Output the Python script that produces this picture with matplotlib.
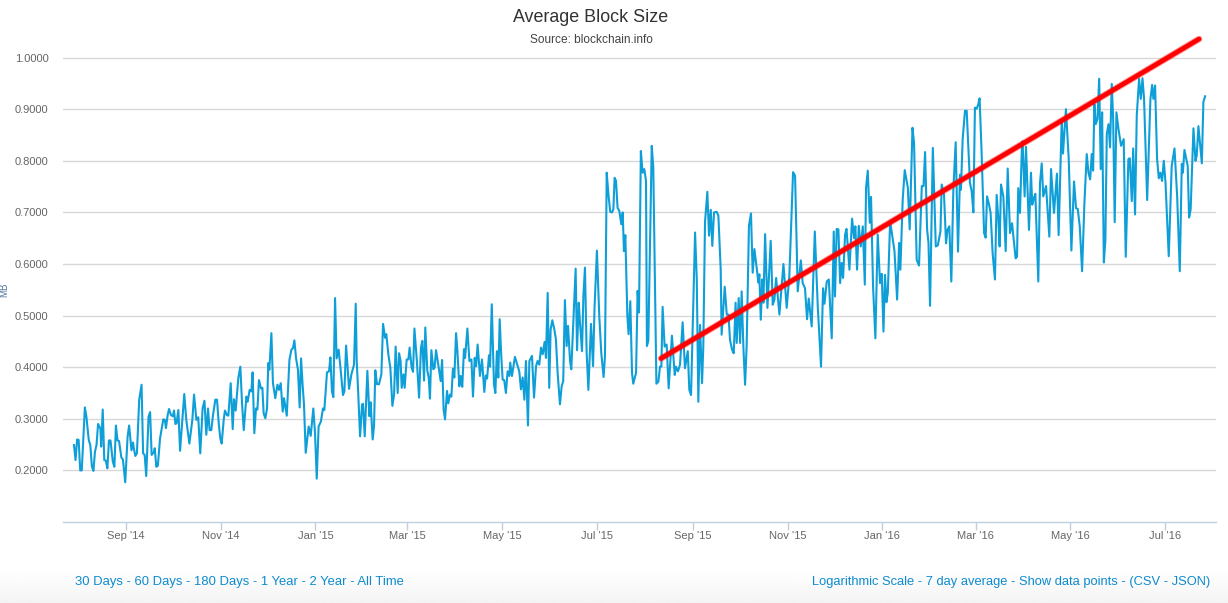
import numpy as np
import pandas as pd
import matplotlib
matplotlib.use('Agg')
import matplotlib.pyplot as plt
import matplotlib.dates as mdates
import matplotlib.patheffects as pe

plt.rcParams['font.family'] = ['Liberation Sans', 'DejaVu Sans']

# days since start of the series
days = [
    0, 1, 2, 3, 4, 5, 7, 8, 9.5, 10.5, 11.5, 12.5, 13.5, 14.5, 15.5, 17, 17.5, 18.5, 19.5, 20.5,
    21.5, 22.5, 23.5, 25, 26, 27, 28, 29, 30.5, 31.5, 33, 34.5, 35.5, 37, 38, 38.5, 39.5, 40.5, 42, 43.5,
    44.5, 45.5, 46.5, 48, 49, 50, 51.5, 52, 53, 54, 55.4, 57.5, 58.5, 59.2, 60.3, 61.2, 62.5, 63.7, 64.4, 65.3,
    66, 67.2, 68.3, 71, 72.3, 74.3, 76.2, 77.3, 78.8, 80, 81.3, 82.8, 84, 85.2, 86.3, 87.3, 88.4, 89.5, 91,
    92.1, 93.2, 94.2, 95.1, 96.4, 97.2, 98.5, 99.4, 100.9, 102.2, 103, 104.1, 105.8, 107.1, 108.2, 109.3,
    111, 111.8, 113.1, 114.2, 115, 116.1, 117.2, 118.1, 119.1, 120.4, 121.3, 122.1, 123.2, 124.3, 125.1,
    125.8, 127.1, 128.1, 129.6, 131, 132, 133.1, 134.4, 135.2, 137, 138.7, 140, 141, 141.9, 143, 144.2,
    145.3, 146.2, 147.2, 148.1, 149.2, 151.1, 152.4, 154.1, 155.2, 156.3, 157.5, 159, 160.3, 161.2, 162.9,
    164.2, 165.1, 166.1, 167, 168.1, 169.1, 170.4, 171.7, 173.2, 174.1, 175.2, 177.1, 178.6, 180.3, 181.4,
    182, 182.9, 184.2, 185.5, 186.1, 187.2, 188.9, 190.2, 191, 192.3, 193.2, 194, 195.1, 196.4, 197.9, 199,
    200.3, 201.1, 202.4, 203.7, 205, 206.1, 207.1, 208.4, 209.3, 210.3, 211, 212.1, 212.9, 214.2, 215.3,
    216.1, 217.4, 218.3, 219.2, 220.7, 222.2, 223.4, 224.3, 225.4, 226.2, 227.5, 228.4, 229.2, 230.1, 231.4,
    232.2, 233.1, 235, 236.1, 237, 238, 238.9, 240.2, 241, 242.1, 243, 244, 244.9, 246, 246.8, 248.1, 249,
    250, 251.1, 251.8, 253.3, 254.6, 255.9, 256.9, 258, 258.9, 259.9, 261.4, 262.7, 264.2, 265.1, 266, 267.2,
    267.9, 269, 270.4, 271.3, 272.3, 273.2, 274.1, 275, 276, 277, 278.1, 279.2, 280.3, 280.9, 282, 283.9,
    285.7, 286.7, 287.8, 288.9, 290, 291, 292.3, 293.2, 294.9, 296.2, 297.5, 298.5, 299.6, 300.7, 301.8, 303,
    303.9, 305, 306, 306.9, 308, 309.3, 310.3, 311.4, 312.9, 314, 315, 316.1, 317.2, 318.1, 319.4, 320.2,
    323, 323.9, 325, 325.8, 327.1, 328, 329, 330.1, 331.2, 332.9, 334.2, 335.2, 336.7, 338.2, 339.5, 341,
    341.9, 343, 344.2, 345.3, 346.4, 347.3, 348.1, 349, 350, 351.1, 352.4, 353.3, 354.1, 355, 356.3, 357.1,
    358.2, 359.3, 360.1, 361.9, 362.9, 363.8, 365, 366.1, 367.2, 368.3, 368.9, 369.8, 372, 373, 375, 376.3,
    377.3, 378.2, 379, 380.3, 381.6, 382.9, 385, 386.8, 387.6, 388.9, 390.2, 391.9, 393.4, 395.2, 396.2,
    397.3, 399.9, 401, 402, 403.1, 404.4, 405.2, 406.3, 407.8, 408.9, 410, 411, 412.1, 413.8, 414.9, 416.4,
    417, 419, 420.3, 421.4, 422.4, 423.7, 424.8, 426, 426.7, 428, 428.9, 429.9, 431, 432.1, 433.1, 434.6,
    435.9, 437, 438.1, 440.7, 441.3, 442.2, 443.2, 443.9, 445, 446.5, 448.6, 449.9, 451, 452.1, 454.2, 456.8,
    458.9, 460.6, 463, 464.3, 466, 468, 469.2, 470.7, 472, 473.1, 475, 477, 478.9, 481, 482.3, 483.2, 484.7,
    486, 487.9, 489.2, 490, 491.1, 492.2, 493.3, 494.3, 495.2, 496.5, 497.4, 499.3, 501, 502.3, 503.1, 504.2,
    505.3, 506.6, 507.9, 509.2, 510, 511.1, 512.4, 513.2, 514.5, 516, 517.5, 519, 520.1, 521.2, 522.2, 523.1,
    524, 525.5, 528.3, 530, 531.3, 532.1, 533.6, 534.9, 536.9, 538.1, 539.9, 540.9, 542.6, 544.1, 545.9, 547,
    548, 549.3, 550.2, 551.2, 553, 554.9, 556.2, 557.9, 558.7, 560.2, 561.5, 562.4, 563.6, 564.9, 566.2,
    567.7, 569.2, 570.5, 571.1, 572.2, 573.7, 574.8, 576.9, 578, 579.1, 580.1, 581.2, 582.3, 583.1, 584.4,
    586, 587, 587.9, 589.2, 590.2, 591.5, 593, 594.1, 595.2, 596, 596.9, 598.4, 599.9, 601.2, 602.7, 604,
    606.3, 607.2, 608, 609.1, 610.4, 610.8, 612.1, 613, 614.9, 616.2, 617, 618.1, 619, 620.9, 622, 623.1,
    624.1, 625.9, 628, 629.1, 631, 632.9, 634, 636, 636.8, 638.7, 640.5, 642.2, 643.9, 645.2, 646.3, 647.6,
    649.1, 650.6, 652.1, 653.2, 654.3, 655.3, 656.2, 657, 657.9, 659, 660.1, 661.1, 662, 663.1, 664.1, 665,
    666.1, 667.1, 668.2, 669.1, 670.1, 671.2, 672.5, 674.2, 675.9, 677.2, 678.9, 679.8, 681.1, 682, 683.2,
    684.3, 685.8, 686.9, 688, 689, 691, 693.1, 694.2, 695, 696.1, 697.4, 698.5, 699.5, 700.6, 701.7, 702.8,
    704.9, 706.8, 708.6, 710.3, 712, 713.3, 714, 715, 717.1, 718, 719, 720.8, 722.1, 722.9, 724, 726.2, 727.2,
    728.3,
]

# average block size in MB
block_size = [
    .249, .22, .26, .259, .2, .2, .322, .304, .259, .249, .208, .199, .236, .249, .29, .281, .246, .318, .22, .219,
    .204, .258, .258, .217, .207, .287, .258, .257, .225, .221, .177, .265, .287, .239, .254, .243, .228, .233, .337, .366,
    .233, .23, .189, .304, .313, .23, .236, .243, .207, .209, .262, .299, .298, .282, .307, .319, .307, .305, .316, .29,
    .291, .317, .238, .348, .298, .252, .298, .347, .298, .303, .233, .32, .335, .269, .32, .278, .278, .307, .337,
    .337, .291, .262, .252, .298, .316, .307, .306, .369, .28, .338, .316, .379, .401, .33, .278,
    .343, .333, .356, .353, .39, .272, .32, .318, .375, .359, .36, .311, .301, .32, .408,
    .395, .466, .369, .34, .366, .356, .369, .314, .34, .306, .414, .434, .437, .452, .417, .395,
    .322, .417, .366, .327, .234, .285, .267, .32, .272, .184, .285, .295, .32, .317, .39,
    .392, .419, .353, .342, .534, .417, .434, .395, .346, .353, .442, .358, .386, .405, .523,
    .415, .357, .266, .328, .329, .266, .393, .305, .332, .26, .286, .394, .367, .367, .386, .484,
    .457, .464, .425, .399, .325, .347, .44, .35, .427, .412, .36, .386, .36, .415, .415,
    .438, .399, .391, .475, .415, .341, .438, .451, .374, .477, .393, .38, .339, .433, .396,
    .399, .433, .396, .373, .414, .318, .299, .354, .33, .347, .343, .397, .38, .466, .435, .363, .383,
    .362, .435, .418, .475, .412, .415, .343, .418, .402, .444, .383, .415, .352, .384, .378, .423,
    .401, .522, .367, .35, .431, .38, .493, .428, .376, .375, .35, .392, .383, .409, .383, .42,
    .402, .392, .357, .38, .337, .412, .287, .412, .422, .341, .402, .412, .405, .438, .425, .449,
    .418, .544, .36, .473, .491, .473, .454, .389, .328, .363, .373, .53, .441, .48, .412, .396,
    .591, .433, .525, .486, .431, .538, .593, .428, .356, .484, .402, .518, .626, .5, .428, .381,
    .422, .777, .732, .701, .7, .706, .767, .761, .709, .703, .677, .7, .625, .656, .5, .464,
    .528, .389, .368, .389, .548, .506, .819, .777, .784, .761, .441, .451, .829, .787, .368, .372,
    .401, .401, .517, .44, .444, .359, .461, .385, .401, .392, .405, .487, .398, .431, .356,
    .346, .661, .57, .333, .482, .369, .44, .681, .74, .655, .705, .635, .7, .701, .694, .59,
    .463, .556, .502, .502, .453, .434, .427, .525, .447, .534, .447, .547, .44, .366, .44, .674,
    .698, .583, .629, .564, .58, .492, .57, .525, .658, .515, .645, .521, .531, .573, .502, .6,
    .515, .577, .778, .771, .547, .607, .563, .553, .493, .533, .479, .663, .518, .401, .553, .523, .566,
    .57, .456, .663, .537, .668, .667, .563, .602, .573, .657, .668, .589, .688, .65, .673, .589,
    .674, .634, .673, .56, .748, .781, .68, .73, .557, .456, .657, .563, .581, .469, .579, .526,
    .544, .683, .625, .531, .641, .589, .725, .782, .748, .667, .864, .835, .608, .597, .751, .751,
    .817, .667, .641, .519, .825, .634, .636, .663, .754, .734, .64, .666, .673, .566, .744,
    .836, .624, .773, .744, .842, .897, .897, .757, .741, .7, .903, .901, .91, .921, .816,
    .66, .651, .731, .715, .699, .621, .57, .734, .686, .634, .754, .731, .625, .785, .66, .679,
    .611, .614, .747, .699, .832, .838, .731, .827, .666, .777, .715, .728, .736, .566, .757, .795,
    .731, .751, .653, .784, .699, .775, .656, .881, .814, .9, .803, .626, .76, .708, .707, .673,
    .586, .719, .813, .777, .764, .813, .781, .91, .871, .881, .959, .784, .894, .603, .647, .852,
    .871, .826, .949, .881, .681, .894, .862, .829, .842, .614, .803, .805, .722, .824, .696,
    .888, .959, .92, .96, .92, .724, .92, .947, .92, .946, .803, .766, .777, .761, .8, .758,
    .615, .79, .824, .732, .586, .794, .777, .821, .79, .69, .706, .863, .8, .81, .867, .795, .914,
    .925,
]

# hand drawn trend line
trend_days = [378, 724.4]
trend_size = [.417, 1.036]

y_ticks = [.2, .3, .4, .5, .6, .7, .8, .9, 1.0]
x_tick_dates = ['2014-09-01', '2014-11-01', '2015-01-01', '2015-03-01', '2015-05-01', '2015-07-01',
                '2015-09-01', '2015-11-01', '2016-01-01', '2016-03-01', '2016-05-01', '2016-07-01']

start = pd.Timestamp('2014-07-29 12:00')
W, H = 1228, 603

dates = start + pd.to_timedelta(days, unit='D')
trend_dates = start + pd.to_timedelta(trend_days, unit='D')
x_ticks = pd.to_datetime(x_tick_dates)

fig = plt.figure(figsize=(W / 100, H / 100), dpi=100, facecolor='white')

# grey fade behind the footer links
bg = fig.add_axes([0, 0, 1, 33 / H], zorder=0)
bg.imshow(np.linspace(1.0, 0.955, 64).reshape(-1, 1), cmap='gray', vmin=0, vmax=1, aspect='auto')
bg.axis('off')

ax = fig.add_axes([63 / W, (H - 522) / H, 1152.5 / W, 492 / H], zorder=1)
ax.patch.set_alpha(0)

ax.plot(dates, block_size, color='#0f9fd8', lw=1.5, solid_joinstyle='round', zorder=3)
ax.plot(trend_dates, trend_size, color='#ff0000', lw=3.4, solid_capstyle='round', zorder=4, clip_on=False,
        path_effects=[pe.withStroke(linewidth=4.8, foreground='#ff000060')])

ax.set_xlim(start + pd.Timedelta(days=-7.08), start + pd.Timedelta(days=735.0))
ax.set_ylim(0.1, 0.1 + 492 / 516)

ax.set_yticks(y_ticks)
ax.set_yticklabels(['{:.4f}'.format(v) for v in y_ticks])
ax.set_xticks(x_ticks)
ax.xaxis.set_major_formatter(mdates.DateFormatter("%b '%y"))

ax.grid(axis='y', color='#d8d8d8', lw=1)
ax.set_axisbelow(True)
for side in ['top', 'right', 'left']:
    ax.spines[side].set_visible(False)
ax.spines['bottom'].set_color('#c0d0e0')
ax.spines['bottom'].set_linewidth(1)

ax.tick_params(axis='y', length=0, pad=10.5, labelsize=8.0, labelcolor='#666666')
ax.tick_params(axis='x', length=5.5, width=1, color='#c0d0e0', pad=1, labelsize=8, labelcolor='#666666')

fig.text(591 / W, 1 - 18 / H, 'Average Block Size', ha='center', va='center', fontsize=12.9, color='#333333')
fig.text(591 / W, 1 - 40 / H, 'Source: blockchain.info', ha='center', va='center', fontsize=8.6, color='#444444')
fig.text(4.5 / W, 1 - 290 / H, 'MB', ha='center', va='center', rotation=90, fontsize=7, color='#4d759e')

link_color = '#0d8bd0'
fig.text(75 / W, 1 - 582 / H, '30 Days - 60 Days - 180 Days - 1 Year - 2 Year - All Time',
         ha='left', va='center', fontsize=9.35, color=link_color, zorder=5)
fig.text(1210 / W, 1 - 582 / H, 'Logarithmic Scale - 7 day average - Show data points - (CSV - JSON)',
         ha='right', va='center', fontsize=9.3, color=link_color, zorder=5)

fig.savefig('out.png', dpi=100)
